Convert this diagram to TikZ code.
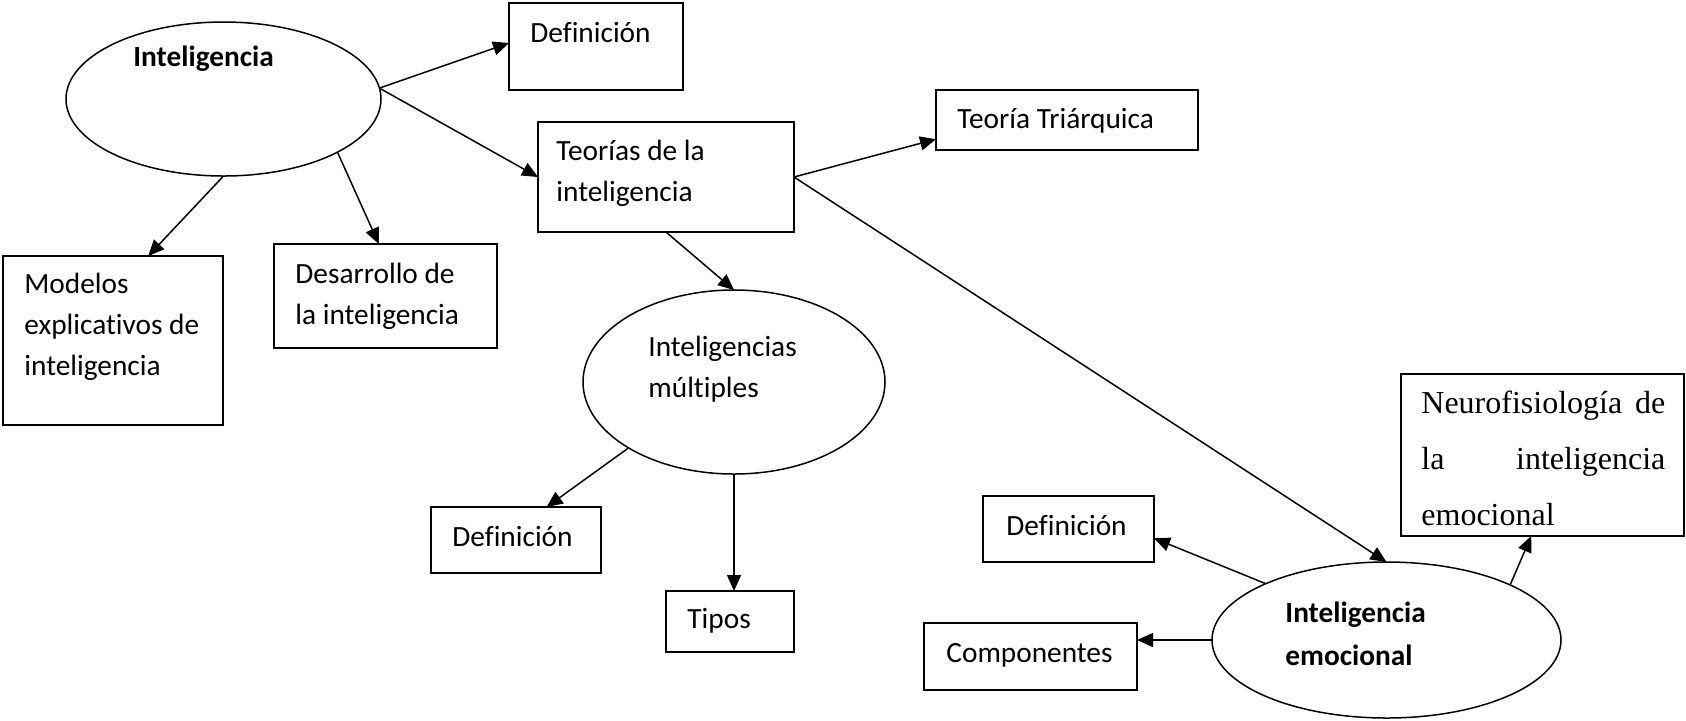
\documentclass[tikz,border=0pt]{standalone}
\usepackage{fontspec}
\setmainfont{Carlito}[Ligatures=NoCommon]
\newfontfamily\tnr{Liberation Serif}[Ligatures=NoCommon]
\usetikzlibrary{arrows.meta,fit,calc,shapes.geometric}
\newcommand{\twol}[2]{\vtop{\baselineskip=20.5pt\hbox{#1}\hbox{#2}}}
\newcommand{\threel}[3]{\vtop{\baselineskip=20.5pt\hbox{#1}\hbox{#2}\hbox{#3}}}
\begin{document}
\begin{tikzpicture}[x=0.5pt,y=-0.5pt,
  box/.style={draw, line width=1pt, inner sep=0pt, outer sep=0pt},
  ell/.style={draw, ellipse, line width=0.75pt, inner sep=0pt, outer sep=0pt},
  txt/.style={inner sep=0pt, anchor=base west, font=\fontsize{14.67pt}{20.5pt}\selectfont},
  arr/.style={-{Triangle[length=8pt,width=7pt]}, line width=0.75pt}]
\useasboundingbox (0,0) rectangle (1686,720);
\fill[white] (0,0) rectangle (1686,720);

% ellipses
\node[ell, minimum width=157.5pt, minimum height=77pt] (intel) at (223.5,99) {};
\node[ell, minimum width=151pt, minimum height=92pt] (im) at (734,382) {};
\node[ell, minimum width=174.5pt, minimum height=78pt] (ie) at (1386.5,640) {};

% boxes
\node[box, fit={(509,3) (683,90)}] (def1) {};
\node[box, fit={(538,122) (794,232)}] (teo) {};
\node[box, fit={(936,90) (1198,150)}] (tri) {};
\node[box, fit={(3,256) (223,425)}] (mod) {};
\node[box, fit={(274,244) (497,348)}] (des) {};
\node[box, fit={(431,507) (601,573)}] (def2) {};
\node[box, fit={(666,591) (794,652)}] (tipos) {};
\node[box, fit={(983,496) (1154,562)}] (def3) {};
\node[box, fit={(924,623) (1137,690)}] (comp) {};
\node[box, fit={(1401,374) (1684,536)}] (neuro) {};

% texts
\node[txt] (t-intel) at (133,66) {\bfseries Inteligencia};
\node[txt] (t-def1) at (530,42) {Definición};
\node[txt] (t-teo) at (556,160) {\twol{Teorías de la}{inteligencia}};
\node[txt] (t-tri) at (957,128) {Teoría Triárquica};
\node[txt] (t-mod) at (24,293) {\threel{Modelos}{explicativos de}{inteligencia}};
\node[txt] (t-des) at (295,283) {\twol{Desarrollo de}{la inteligencia}};
\node[txt] (t-im) at (648,356) {\twol{Inteligencias}{múltiples}};
\node[txt] (t-def2) at (452,546) {Definición};
\node[txt] (t-tipos) at (687,628) {Tipos};
\node[txt] (t-def3) at (1006,535) {Definición};
\node[txt] (t-comp) at (946,662) {Componentes};
\node[txt, font=\fontsize{14.67pt}{21.5pt}\selectfont\bfseries] (t-ie) at (1285,622) {\vtop{\baselineskip=21.5pt\hbox{Inteligencia}\hbox{emocional}}};
\node[txt, font=\tnr\fontsize{16pt}{28pt}\selectfont] (t-neuro) at (1421,413)
  {\vtop{\baselineskip=28pt\hbox to 122pt{Neurofisiología\hfill de}\hbox to 122pt{la\hfill inteligencia}\hbox{emocional}}};

% connectors
\draw[arr] (intel.4) -- ($(def1.north west)!0.46!(def1.south west)$);
\draw[arr] (intel.4) -- (teo.west);
\draw[arr] (intel.south) -- ($(mod.north west)!0.66!(mod.north east)$);
\draw[arr] (intel.-25) -- ($(des.north west)!0.47!(des.north east)$);
\draw[arr] (teo.south) -- (im.north);
\draw[arr] (teo.east) -- ($(tri.north west)!0.82!(tri.south west)$);
\draw[arr] (teo.east) -- (ie.north);
\draw[arr] (im.212) -- ($(def2.north west)!0.68!(def2.north east)$);
\draw[arr] (im.south) -- (im.south |- tipos.north);
\draw[arr] (ie.155) -- ($(def3.north east)!0.64!(def3.south east)$);
\draw[arr] (ie.west) -- (ie.west -| comp.east);
\draw[arr] (ie.24) -- ($(neuro.south west)!0.46!(neuro.south east)$);
\end{tikzpicture}
\end{document}
